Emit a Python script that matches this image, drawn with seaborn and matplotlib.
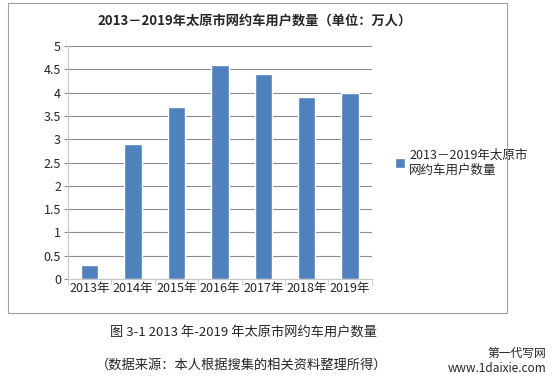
import pandas as pd
import matplotlib.pyplot as plt
import seaborn as sns
from matplotlib.patches import Rectangle

# data
years = ['2013年', '2014年', '2015年', '2016年', '2017年', '2018年', '2019年']
users = [0.3, 2.9, 3.7, 4.6, 4.4, 3.9, 4.0]
series_name = '2013－2019年太原市\n网约车用户数量'

df = pd.DataFrame({'year': years, 'users': users, 'series': series_name})

sns.set_style('white')
plt.rcParams['font.family'] = ['Noto Sans CJK SC', 'DejaVu Sans']

fig = plt.figure(figsize=(5.55, 3.82), dpi=100)
ax = fig.add_axes([0.1225, 0.2696, 0.5475, 0.61])

# outer chart frame
fig.patches.append(Rectangle((8 / 555, 1 - 313 / 382), 499 / 555, 310 / 382,
                             transform=fig.transFigure, fill=False,
                             edgecolor='#a0a0a0', linewidth=0.8))

sns.barplot(data=df, x='year', y='users', hue='series', palette=['#4f81bd'],
            saturation=1, width=0.4, ax=ax)

ax.set_ylim(0, 5)
ax.set_yticks([0, 0.5, 1, 1.5, 2, 2.5, 3, 3.5, 4, 4.5, 5])
ax.set_yticklabels(['0', '0.5', '1', '1.5', '2', '2.5', '3', '3.5', '4', '4.5', '5'])
ax.set_xlim(-0.5, 6.5)
ax.grid(axis='y', color='#8c8c8c', linewidth=0.8)
ax.set_axisbelow(True)
for s in ['top', 'right']:
    ax.spines[s].set_visible(False)
ax.spines['left'].set_color('#c8c8c8')
ax.spines['bottom'].set_color('#c8c8c8')
ax.tick_params(axis='y', length=3, color='#8c8c8c', labelsize=9, pad=2, left=True)
ax.tick_params(axis='x', length=0, labelsize=9, pad=2)
ax.set_xticks([i - 0.5 for i in range(8)], minor=True)
ax.tick_params(axis='x', which='minor', length=4, color='#c8c8c8', bottom=True)
ax.set_xlabel('')
ax.set_ylabel('')

ax.legend(loc='center left', bbox_to_anchor=(1.04, 0.5), frameon=False,
          fontsize=9, handlelength=0.8, handleheight=0.8, handletextpad=0.3)

fig.text(0.458, 0.945, '2013－2019年太原市网约车用户数量（单位：万人）',
         ha='center', va='center', fontsize=9.5, fontweight='bold')
fig.text(0.438, 0.13, '图 3-1 2013 年-2019 年太原市网约车用户数量',
         ha='center', va='center', fontsize=9.5)
fig.text(0.435, 0.045, '（数据来源：本人根据搜集的相关资料整理所得）',
         ha='center', va='center', fontsize=9.5)
fig.text(0.985, 0.075, '第一代写网', ha='right', va='center', fontsize=8.5)
fig.text(0.985, 0.035, 'www.1daixie.com', ha='right', va='center', fontsize=8.5)

fig.savefig('out.png', dpi=100)
